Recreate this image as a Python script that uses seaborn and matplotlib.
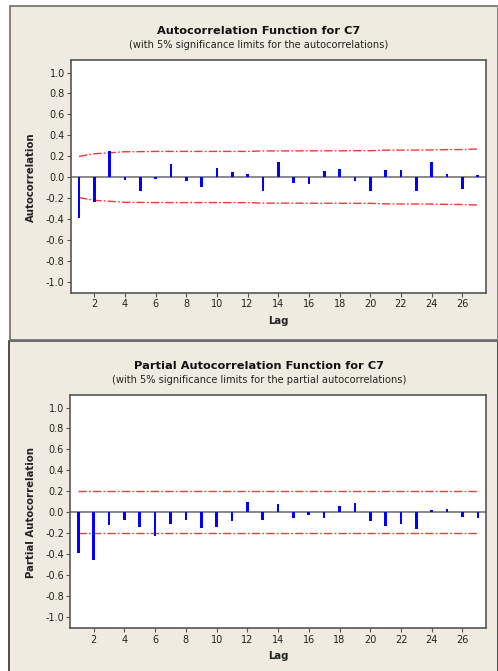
import numpy as np
import pandas as pd
import seaborn as sns
import matplotlib.pyplot as plt
from matplotlib.patches import Rectangle


lags=list(range(1,28))

acf=[-0.39,-0.24,0.25,-0.03,-0.13,-0.015,0.12,-0.035,-0.10,0.09,
     0.05,0.03,-0.13,0.14,-0.06,-0.07,0.055,0.08,-0.035,-0.13,
     0.07,0.065,-0.13,0.145,0.025,-0.11,0.02]

acf_limit=[0.197,0.223,0.232,0.242,0.243,0.245,0.245,0.245,0.245,0.245,
           0.245,0.245,0.25,0.25,0.25,0.251,0.251,0.251,0.252,0.252,
           0.257,0.258,0.258,0.259,0.262,0.263,0.268]

pacf=[-0.395,-0.46,-0.12,-0.075,-0.14,-0.23,-0.11,-0.075,-0.15,-0.14,
      -0.085,0.10,-0.075,0.075,-0.055,-0.03,-0.06,0.055,0.085,-0.085,
      -0.13,-0.11,-0.165,0.02,0.035,-0.045,-0.055]

pacf_limit=[0.199]*27

yticks=[-1.0,-0.8,-0.6,-0.4,-0.2,0.0,0.2,0.4,0.6,0.8,1.0]
ytick_labels=["-1.0","-0.8","-0.6","-0.4","-0.2","0.0","0.2","0.4","0.6","0.8","1.0"]
xticks=list(range(2,27,2))

sns.set_style("white")
plt.rcParams['font.family']=['DejaVu Sans']
plt.rcParams['axes.unicode_minus']=False

W,H=498,671
fig=plt.figure(figsize=(W/100,H/100),dpi=100)
fig.patch.set_facecolor("white")

bg="#efebe1"

def px(x,y,w,h):
    return [x/W,1-(y+h)/H,w/W,h/H]

# panel backgrounds, kept behind the axes
fig.patches.append(Rectangle((9.5/W,1-340/H),(W-9.5)/W,334/H,transform=fig.transFigure,
                             facecolor=bg,edgecolor="#6e6e6e",linewidth=1.2,zorder=-2))
fig.patches.append(Rectangle((8.5/W,-0.01),(W-8.5)/W,1-341/H+0.01,transform=fig.transFigure,
                             facecolor=bg,edgecolor="#303030",linewidth=1.2,zorder=-2))
fig.patches.append(Rectangle((8.5/W,1-341.5/H),(W-8.5)/W,1.5/H,transform=fig.transFigure,
                             facecolor="#6e6e6e",edgecolor="none",zorder=-1))


def draw_panel(rect,values,limit,ylab,title,subtitle,y0):
    ax=fig.add_axes(rect)
    ax.set_facecolor("white")
    df=pd.DataFrame({"lag":lags,"r":values})
    ax.axhline(0,color="#808080",linewidth=1.3,zorder=1)
    sns.barplot(data=df,x="lag",y="r",native_scale=True,width=0.17,color="#0000ff",
                saturation=1,edgecolor="none",ax=ax,zorder=3)
    lim=pd.DataFrame({"lag":lags,"up":limit,"lo":[-v for v in limit]})
    for col in ["up","lo"]:
        sns.lineplot(data=lim,x="lag",y=col,color="#ff3333",linewidth=1.0,
                     ax=ax,zorder=2).lines[-1].set_dashes((6,1.6,1.2,1.6))
    ax.set_xlim(0.48,27.55)
    ax.set_ylim(-1.11,1.12)
    ax.set_xticks(xticks)
    ax.set_yticks(yticks)
    ax.set_yticklabels(ytick_labels)
    ax.tick_params(direction="out",length=3,width=0.8,color="#555555",labelsize=7,
                   labelcolor="#222222",pad=1.5,bottom=True,left=True)
    ax.set_xlabel("")
    ax.set_ylabel("")
    for s in ax.spines.values():
        s.set_color("#555555")
        s.set_linewidth(1.2)
    fig.text(259/W,1-(y0+30.7)/H,title,ha="center",va="center",fontsize=8.2,fontweight="bold",color="#111111")
    fig.text(259/W,1-(y0+45)/H,subtitle,ha="center",va="center",fontsize=7.1,color="#222222")
    fig.text(31/W,1-(y0+177)/H,ylab,ha="center",va="center",rotation=90,fontsize=7.3,fontweight="bold",color="#222222")
    fig.text(278/W,1-(y0+321)/H,"Lag",ha="center",va="center",fontsize=7.3,fontweight="bold",color="#222222")
    return ax


draw_panel(px(71,60,415,233),acf,acf_limit,"Autocorrelation",
           "Autocorrelation Function for C7",
           "(with 5% significance limits for the autocorrelations)",0)
draw_panel(px(70.3,395,416,233.3),pacf,pacf_limit,"Partial Autocorrelation",
           "Partial Autocorrelation Function for C7",
           "(with 5% significance limits for the partial autocorrelations)",335)

plt.savefig("out.png",dpi=100,facecolor=fig.get_facecolor())
plt.close()
